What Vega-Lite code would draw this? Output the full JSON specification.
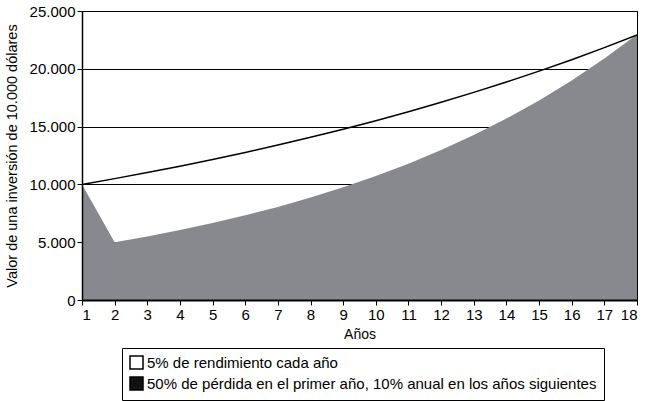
{
  "$schema": "https://vega.github.io/schema/vega-lite/v6.json",
  "width": 555,
  "height": 289,
  "autosize": {"type": "none"},
  "padding": {"left": 82, "top": 11, "right": 10, "bottom": 101},
  "config": {
    "font": "Liberation Sans",
    "view": {"stroke": "black", "strokeWidth": 1},
    "axis": {"domainColor": "black", "tickColor": "black", "labelColor": "black", "titleColor": "black", "titleFontWeight": "normal"}
  },
  "data": {
    "values": [
      {"anio": 1, "serie": "5% de rendimiento cada año", "valor": 10000},
      {"anio": 2, "serie": "5% de rendimiento cada año", "valor": 10500},
      {"anio": 3, "serie": "5% de rendimiento cada año", "valor": 11025},
      {"anio": 4, "serie": "5% de rendimiento cada año", "valor": 11576},
      {"anio": 5, "serie": "5% de rendimiento cada año", "valor": 12155},
      {"anio": 6, "serie": "5% de rendimiento cada año", "valor": 12763},
      {"anio": 7, "serie": "5% de rendimiento cada año", "valor": 13401},
      {"anio": 8, "serie": "5% de rendimiento cada año", "valor": 14071},
      {"anio": 9, "serie": "5% de rendimiento cada año", "valor": 14775},
      {"anio": 10, "serie": "5% de rendimiento cada año", "valor": 15513},
      {"anio": 11, "serie": "5% de rendimiento cada año", "valor": 16289},
      {"anio": 12, "serie": "5% de rendimiento cada año", "valor": 17103},
      {"anio": 13, "serie": "5% de rendimiento cada año", "valor": 17959},
      {"anio": 14, "serie": "5% de rendimiento cada año", "valor": 18856},
      {"anio": 15, "serie": "5% de rendimiento cada año", "valor": 19799},
      {"anio": 16, "serie": "5% de rendimiento cada año", "valor": 20789},
      {"anio": 17, "serie": "5% de rendimiento cada año", "valor": 21829},
      {"anio": 18, "serie": "5% de rendimiento cada año", "valor": 22920},
      {"anio": 1, "serie": "50% de pérdida en el primer año, 10% anual en los años siguientes", "valor": 10000},
      {"anio": 2, "serie": "50% de pérdida en el primer año, 10% anual en los años siguientes", "valor": 5000},
      {"anio": 3, "serie": "50% de pérdida en el primer año, 10% anual en los años siguientes", "valor": 5500},
      {"anio": 4, "serie": "50% de pérdida en el primer año, 10% anual en los años siguientes", "valor": 6050},
      {"anio": 5, "serie": "50% de pérdida en el primer año, 10% anual en los años siguientes", "valor": 6655},
      {"anio": 6, "serie": "50% de pérdida en el primer año, 10% anual en los años siguientes", "valor": 7321},
      {"anio": 7, "serie": "50% de pérdida en el primer año, 10% anual en los años siguientes", "valor": 8053},
      {"anio": 8, "serie": "50% de pérdida en el primer año, 10% anual en los años siguientes", "valor": 8858},
      {"anio": 9, "serie": "50% de pérdida en el primer año, 10% anual en los años siguientes", "valor": 9744},
      {"anio": 10, "serie": "50% de pérdida en el primer año, 10% anual en los años siguientes", "valor": 10718},
      {"anio": 11, "serie": "50% de pérdida en el primer año, 10% anual en los años siguientes", "valor": 11790},
      {"anio": 12, "serie": "50% de pérdida en el primer año, 10% anual en los años siguientes", "valor": 12969},
      {"anio": 13, "serie": "50% de pérdida en el primer año, 10% anual en los años siguientes", "valor": 14266},
      {"anio": 14, "serie": "50% de pérdida en el primer año, 10% anual en los años siguientes", "valor": 15692},
      {"anio": 15, "serie": "50% de pérdida en el primer año, 10% anual en los años siguientes", "valor": 17262},
      {"anio": 16, "serie": "50% de pérdida en el primer año, 10% anual en los años siguientes", "valor": 18988},
      {"anio": 17, "serie": "50% de pérdida en el primer año, 10% anual en los años siguientes", "valor": 20887},
      {"anio": 18, "serie": "50% de pérdida en el primer año, 10% anual en los años siguientes", "valor": 22975}
    ]
  },
  "encoding": {
    "x": {
      "field": "anio", "type": "quantitative",
      "scale": {"domain": [1, 18], "nice": false, "zero": false},
      "axis": {"title": "Años", "values": [1,2,3,4,5,6,7,8,9,10,11,12,13,14,15,16,17,18], "format": "d", "grid": false, "zindex": 1, "labelFontSize": 15, "titleFontSize": 14, "tickSize": 5, "domainWidth": 2, "labelPadding": 2, "titlePadding": 5}
    }
  },
  "resolve": {"axis": {"y": "independent"}},
  "layer": [
    {
      "transform": [{"filter": "datum.serie !== '5% de rendimiento cada año'"}],
      "mark": {"type": "area", "color": "#87898e", "opacity": 1},
      "encoding": {
        "y": {
          "field": "valor", "type": "quantitative",
          "scale": {"domain": [0, 25000], "nice": false},
          "axis": {"title": null, "orient": "left", "values": [0, 5000, 10000, 15000, 20000, 25000], "grid": true, "gridColor": "black", "gridOpacity": 1, "gridWidth": 1, "domain": false, "ticks": false, "labels": false, "zindex": 0}
        }
      }
    },
    {
      "transform": [{"filter": "datum.serie === '5% de rendimiento cada año'"}],
      "mark": {"type": "line", "color": "black", "strokeWidth": 1.5},
      "encoding": {
        "y": {
          "field": "valor", "type": "quantitative",
          "scale": {"domain": [0, 25000], "nice": false},
          "axis": {"title": "Valor de una inversión de 10.000 dólares", "orient": "left", "values": [0, 5000, 10000, 15000, 20000, 25000], "labelExpr": "replace(format(datum.value, ','), ',', '.')", "grid": false, "zindex": 1, "labelFontSize": 15, "titleFontSize": 14.5, "tickSize": 5, "domainWidth": 1.5, "labelPadding": 2, "titlePadding": 10}
        }
      }
    },
    {
      "transform": [{"filter": "false"}],
      "mark": {"type": "square", "filled": true, "stroke": "black", "strokeWidth": 1.5, "opacity": 1},
      "encoding": {
        "fill": {
          "field": "serie", "type": "nominal",
          "scale": {"domain": ["5% de rendimiento cada año", "50% de pérdida en el primer año, 10% anual en los años siguientes"], "range": ["white", "#111111"]},
          "legend": {
            "title": null, "orient": "none", "legendX": 40, "legendY": 337, "direction": "vertical",
            "symbolType": "square", "symbolSize": 169, "symbolStrokeWidth": 1.5, "symbolStrokeColor": "black", "symbolOpacity": 1,
            "labelFontSize": 15, "labelColor": "black", "labelLimit": 700, "labelOffset": 3,
            "strokeColor": "black", "fillColor": "white", "padding": 7, "rowPadding": 2
          }
        }
      }
    }
  ]
}
